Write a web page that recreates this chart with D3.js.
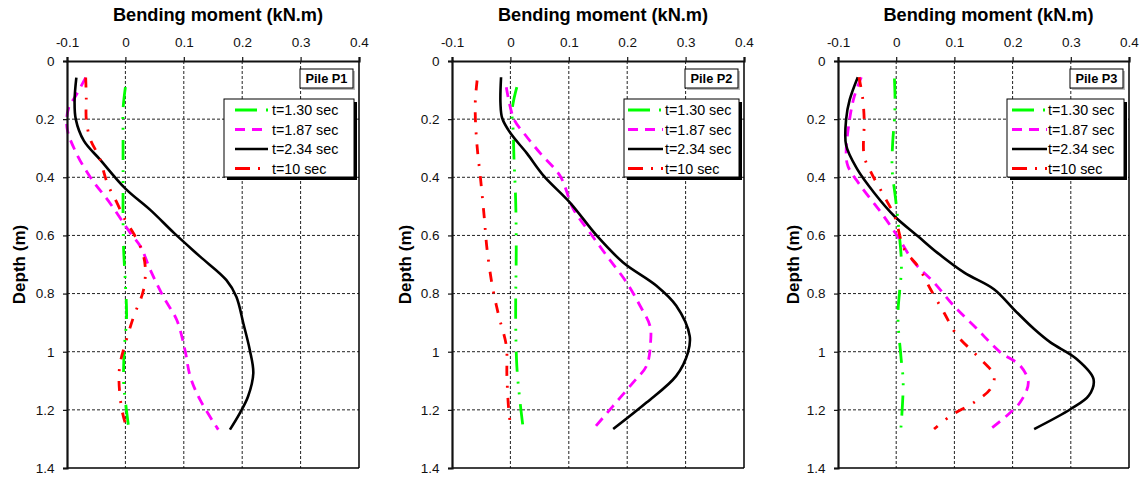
<!DOCTYPE html>
<html><head><meta charset="utf-8">
<script src="https://cdn.jsdelivr.net/npm/d3@7"></script>
<style>
html,body{margin:0;padding:0;background:#fff;}
svg{display:block;font-family:"Liberation Sans",Arial,sans-serif;}
</style></head>
<body>
<svg id="chart" width="1142" height="477"></svg>
<script>
// ---------- data ----------
const xTicks = [-0.1, 0, 0.1, 0.2, 0.3, 0.4];
const yTicks = [0, 0.2, 0.4, 0.6, 0.8, 1, 1.2, 1.4];
const xTitle = "Bending moment (kN.m)";
const yTitle = "Depth (m)";
const pileNames = ["Pile P1", "Pile P2", "Pile P3"];
const seriesLabels = ["t=1.30 sec", "t=1.87 sec", "t=2.34 sec", "t=10 sec"];

// [moment (kN.m), depth (m)]
const p1_t130 = [[0,0.09],[-0.004,0.165],[-0.004,0.252],[-0.004,0.4],[-0.004,0.55],[-0.003,0.65],[0,0.765],[0.002,0.88],[-0.002,0.994],[-0.003,1.108],[0,1.17],[0.006,1.268]];
const p1_t187 = [[-0.068,0.057],[-0.085,0.12],[-0.097,0.16],[-0.1,0.23],[-0.085,0.313],[-0.06,0.4],[-0.026,0.49],[0.009,0.593],[0.026,0.639],[0.043,0.72],[0.065,0.811],[0.088,0.891],[0.102,0.994],[0.111,1.085],[0.128,1.166],[0.159,1.268]];
const p1_t234 = [[-0.084,0.057],[-0.087,0.136],[-0.085,0.2],[-0.071,0.275],[-0.043,0.34],[0,0.439],[0.043,0.513],[0.084,0.593],[0.128,0.673],[0.173,0.754],[0.19,0.811],[0.202,0.903],[0.213,0.994],[0.219,1.074],[0.21,1.154],[0.196,1.211],[0.179,1.268]];
const p1_t10  = [[-0.068,0.057],[-0.067,0.13],[-0.067,0.2],[-0.06,0.27],[-0.045,0.33],[-0.031,0.42],[-0.014,0.49],[0,0.548],[0.014,0.593],[0.028,0.65],[0.034,0.708],[0.031,0.788],[0.014,0.88],[0,0.971],[-0.009,1.04],[-0.011,1.097],[-0.006,1.2],[0.003,1.268]];

const p2_t130 = [[0.011,0.09],[0.003,0.168],[0.005,0.248],[0.006,0.327],[0.009,0.48],[0.01,0.647],[0.009,0.876],[0.011,1.049],[0.016,1.163],[0.022,1.266]];
const p2_t187 = [[-0.007,0.09],[0.006,0.2],[0.023,0.248],[0.051,0.317],[0.085,0.395],[0.108,0.51],[0.136,0.59],[0.165,0.67],[0.199,0.762],[0.222,0.842],[0.239,0.911],[0.24,0.969],[0.233,1.049],[0.21,1.106],[0.176,1.186],[0.142,1.266]];
const p2_t234 = [[-0.016,0.056],[-0.017,0.145],[-0.014,0.197],[0,0.248],[0.028,0.317],[0.057,0.395],[0.102,0.487],[0.148,0.601],[0.193,0.693],[0.25,0.773],[0.284,0.842],[0.307,0.946],[0.304,1.003],[0.284,1.083],[0.233,1.175],[0.176,1.266]];
const p2_t10  = [[-0.057,0.067],[-0.06,0.134],[-0.06,0.197],[-0.057,0.294],[-0.051,0.407],[-0.045,0.533],[-0.04,0.647],[-0.031,0.773],[-0.02,0.876],[-0.007,0.98],[-0.006,1.083],[-0.003,1.197],[0.001,1.266]];

const p3_t130 = [[-0.003,0.06],[-0.002,0.134],[-0.003,0.2],[-0.006,0.28],[-0.007,0.372],[-0.001,0.475],[0.005,0.59],[0.009,0.705],[0.003,0.877],[0.008,1.014],[0.012,1.105],[0.008,1.266]];
const p3_t187 = [[-0.06,0.056],[-0.072,0.122],[-0.08,0.2],[-0.086,0.317],[-0.083,0.361],[-0.061,0.43],[-0.026,0.521],[0.002,0.602],[0.031,0.693],[0.065,0.762],[0.099,0.842],[0.139,0.922],[0.179,1.002],[0.213,1.048],[0.227,1.105],[0.213,1.174],[0.19,1.22],[0.162,1.266]];
const p3_t234 = [[-0.066,0.056],[-0.08,0.134],[-0.086,0.2],[-0.086,0.29],[-0.067,0.372],[-0.038,0.453],[-0.003,0.534],[0.037,0.602],[0.071,0.66],[0.117,0.728],[0.168,0.785],[0.202,0.854],[0.237,0.922],[0.265,0.968],[0.31,1.025],[0.339,1.094],[0.331,1.151],[0.3,1.197],[0.237,1.266]];
const p3_t10  = [[-0.064,0.056],[-0.058,0.122],[-0.055,0.2],[-0.055,0.327],[-0.043,0.384],[-0.021,0.464],[-0.003,0.533],[0.014,0.648],[0.037,0.705],[0.059,0.785],[0.082,0.865],[0.105,0.945],[0.139,1.014],[0.168,1.082],[0.162,1.128],[0.134,1.174],[0.094,1.22],[0.065,1.266]];

const pileSeries = [
  [p1_t130, p1_t187, p1_t234, p1_t10],
  [p2_t130, p2_t187, p2_t234, p2_t10],
  [p3_t130, p3_t187, p3_t234, p3_t10]
];

// ---------- styles / layout ----------
const seriesColors = ["#00ff00", "#ff00ff", "#000000", "#ff0000"];
const seriesDash = ["20,10,2,9,2,10", "10,7", null, "10,10,2,10"];
const seriesWidth = [2.8, 2.8, 2.6, 2.8];

const panels = [
  {left: 67,  right: 359,  legL: 224,  legW: 130, lineL: 11, lineLen: 33, textX: 48, depthX: 19},
  {left: 452, right: 744,  legL: 624,  legW: 115, lineL: 4,  lineLen: 35, textX: 41, depthX: 405},
  {left: 838, right: 1129, legL: 1007, legW: 117, lineL: 5,  lineLen: 35, textX: 41, depthX: 793}
];
const plotTop = 61, plotBottom = 468;

const svg = d3.select("#chart");

panels.forEach((p, i) => {
  const x = d3.scaleLinear().domain([-0.1, 0.4]).range([p.left, p.right]);
  const y = d3.scaleLinear().domain([0, 1.4]).range([plotTop, plotBottom]);
  const g = svg.append("g");

  // grid
  g.append("g").selectAll("line").data(xTicks.slice(1, -1)).join("line")
    .attr("x1", d => x(d)).attr("x2", d => x(d)).attr("y1", plotTop).attr("y2", plotBottom)
    .attr("stroke", "#222").attr("stroke-width", 1).attr("stroke-dasharray", "3,2");
  g.append("g").selectAll("line").data(yTicks.slice(1, -1)).join("line")
    .attr("x1", p.left).attr("x2", p.right).attr("y1", d => y(d)).attr("y2", d => y(d))
    .attr("stroke", "#222").attr("stroke-width", 1).attr("stroke-dasharray", "3,2");

  // curves
  const line = d3.line().x(d => x(d[0])).y(d => y(d[1])).curve(d3.curveCatmullRom.alpha(0.5));
  pileSeries[i].forEach((s, k) => {
    g.append("path").datum(s).attr("d", line)
      .attr("fill", "none").attr("stroke", seriesColors[k])
      .attr("stroke-width", seriesWidth[k])
      .attr("stroke-dasharray", seriesDash[k])
      .attr("stroke-linejoin", "round");
  });

  // frame right & bottom
  g.append("line").attr("x1", p.right).attr("x2", p.right).attr("y1", plotTop).attr("y2", plotBottom)
    .attr("stroke", "#000").attr("stroke-width", 1.5);
  g.append("line").attr("x1", p.left).attr("x2", p.right).attr("y1", plotBottom).attr("y2", plotBottom)
    .attr("stroke", "#000").attr("stroke-width", 1.5);

  // axes
  const fmt = v => String(+v.toFixed(1));
  const xa = g.append("g").attr("transform", `translate(0,${plotTop})`)
    .call(d3.axisTop(x).tickValues(xTicks).tickFormat(fmt).tickSize(4).tickPadding(10));
  const ya = g.append("g").attr("transform", `translate(${p.left},0)`)
    .call(d3.axisLeft(y).tickValues(yTicks).tickFormat(fmt).tickSize(4).tickPadding(8.5));
  [xa, ya].forEach(a => {
    a.attr("font-size", 13.5).attr("font-family", "Liberation Sans, Arial, sans-serif");
    a.select(".domain").attr("stroke", "#111").attr("stroke-width", 2.2);
    a.selectAll(".tick line").attr("stroke", "#111").attr("stroke-width", 1.2);
    a.selectAll(".tick text").attr("fill", "#111");
  });

  // titles
  g.append("text").attr("x", (p.left + p.right) / 2 + 5).attr("y", 21)
    .attr("text-anchor", "middle").attr("font-weight", "bold").attr("font-size", 18.2)
    .text(xTitle);
  g.append("text").attr("transform", `translate(${p.depthX + 6},${(plotTop + plotBottom) / 2}) rotate(-90)`)
    .attr("text-anchor", "middle").attr("font-weight", "bold").attr("font-size", 17)
    .text(yTitle);

  // pile label box
  const bw = 53, bh = 19, bx = p.right - 59, by = 69;
  g.append("rect").attr("x", bx + 2).attr("y", by + 2).attr("width", bw).attr("height", bh)
    .attr("fill", "#bbb");
  g.append("rect").attr("x", bx).attr("y", by).attr("width", bw).attr("height", bh)
    .attr("fill", "#fff").attr("stroke", "#000").attr("stroke-width", 1);
  g.append("text").attr("x", bx + bw / 2).attr("y", by + 14).attr("text-anchor", "middle")
    .attr("font-weight", "bold").attr("font-size", 12.8).text(pileNames[i]);

  // legend
  const lt = 99, lh = 78;
  g.append("rect").attr("x", p.legL + 3).attr("y", lt + 3).attr("width", p.legW).attr("height", lh)
    .attr("fill", "#000");
  g.append("rect").attr("x", p.legL).attr("y", lt).attr("width", p.legW).attr("height", lh)
    .attr("fill", "#fff").attr("stroke", "#000").attr("stroke-width", 1);
  seriesLabels.forEach((lab, k) => {
    const ry = 110 + k * 19.5;
    g.append("line").attr("x1", p.legL + p.lineL).attr("x2", p.legL + p.lineL + p.lineLen)
      .attr("y1", ry).attr("y2", ry)
      .attr("stroke", seriesColors[k]).attr("stroke-width", seriesWidth[k])
      .attr("stroke-dasharray", k === 0 ? "22,9,2,9" : (k === 3 ? "15,8,2,8,2,8" : seriesDash[k]));
    g.append("text").attr("x", p.legL + p.textX).attr("y", ry + 5)
      .attr("font-size", 14.3).attr("fill", "#000").text(lab);
  });
});
</script>
</body></html>
